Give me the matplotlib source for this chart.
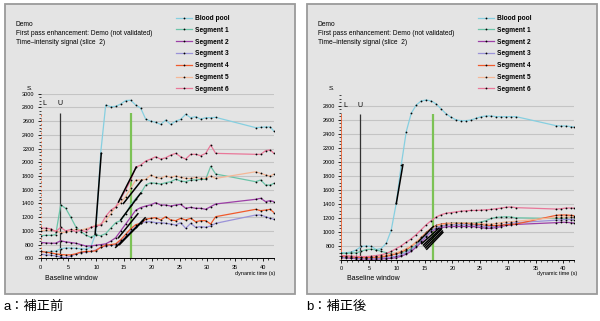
import numpy as np
import matplotlib.pyplot as plt
from matplotlib.patches import Rectangle
from matplotlib.ticker import MultipleLocator

plt.rcParams['font.family'] = ['Liberation Sans', 'Noto Sans CJK JP', 'DejaVu Sans']

W, H = 600, 321

# sample times (s)
times = [0.0, 0.9, 1.8, 2.7, 3.6, 4.5, 5.4, 6.3, 7.2, 8.1, 9.0, 9.9, 10.8, 11.7,
         12.6, 13.5, 14.4, 15.3, 16.2, 17.1, 18.0, 18.9, 19.8, 20.7, 21.6, 22.5,
         23.4, 24.3, 25.2, 26.1, 27.0, 27.9, 28.8, 29.7, 30.6, 31.5,
         38.7, 39.6, 40.5, 41.3, 42.0]

series_names = ['Blood pool', 'Segment 1', 'Segment 2', 'Segment 3',
                'Segment 4', 'Segment 5', 'Segment 6']
series_colors = ['#86cfe0', '#6cc4a8', '#9c3fa6', '#9a92d8',
                 '#f05a2c', '#f5b796', '#e97799']

# --- a: before correction ---
before_blood = [700, 695, 700, 705, 740, 750, 750, 745, 740, 735, 760, 960,
                2135, 2835, 2810, 2815, 2850, 2900, 2905, 2835, 2790, 2630, 2600, 2583,
                2553, 2616, 2553, 2600, 2626, 2700, 2650, 2665, 2630, 2650, 2650, 2655,
                2505, 2510, 2515, 2515, 2455]
before_seg1 = [930, 935, 935, 945, 1378, 1329, 1200, 1062, 989, 940, 906, 940,
               930, 960, 1040, 1120, 1150, 1250, 1380, 1470, 1547, 1668, 1702, 1693,
               1683, 1702, 1717, 1752, 1727, 1717, 1742, 1742, 1752, 1752, 1940, 1829,
               1717, 1742, 1668, 1668, 1693]
before_seg2 = [830, 825, 820, 820, 855, 840, 830, 820, 800, 780, 780, 790,
               800, 810, 850, 900, 1000, 1100, 1200, 1300, 1340, 1362, 1380, 1411,
               1377, 1377, 1362, 1377, 1387, 1329, 1343, 1329, 1329, 1314, 1353, 1392,
               1460, 1475, 1426, 1441, 1426]
before_seg3 = [660, 650, 645, 635, 620, 610, 630, 660, 680, 690, 700, 720,
               760, 780, 790, 800, 850, 920, 1000, 1060, 1110, 1134, 1134, 1120,
               1120, 1110, 1100, 1086, 1120, 1037, 1110, 1052, 1062, 1052, 1071, 1110,
               1231, 1231, 1207, 1183, 1169]
before_seg4 = [700, 690, 680, 665, 655, 650, 650, 665, 690, 700, 700, 710,
               760, 790, 800, 810, 870, 950, 1030, 1090, 1110, 1169, 1183, 1193,
               1159, 1207, 1159, 1149, 1183, 1159, 1183, 1134, 1149, 1149, 1100, 1207,
               1314, 1295, 1304, 1314, 1266]
before_seg5 = [1000, 1010, 1010, 1000, 975, 980, 1000, 1020, 1010, 1030, 1050, 1080,
               1100, 1150, 1250, 1350, 1410, 1500, 1620, 1740, 1741, 1750, 1814, 1780,
               1765, 1800, 1780, 1800, 1780, 1765, 1765, 1780, 1765, 1765, 1800, 1765,
               1862, 1838, 1814, 1800, 1829]
before_seg6 = [1040, 1040, 1030, 990, 1050, 1000, 1020, 990, 1010, 990, 1050, 1070,
               1085, 1210, 1300, 1350, 1470, 1595, 1740, 1927, 1960, 2018, 2047, 2081,
               2047, 2066, 2105, 2130, 2081, 2047, 2116, 2116, 2096, 2130, 2251, 2130,
               2116, 2116, 2170, 2180, 2130]

# --- b: after correction ---
after_blood = [700, 700, 710, 740, 790, 795, 790, 745, 760, 834, 1025, 1407,
               1955, 2432, 2695, 2814, 2872, 2886, 2872, 2829, 2757, 2686, 2638, 2600,
               2590, 2590, 2600, 2624, 2647, 2657, 2657, 2647, 2647, 2647, 2647, 2647,
               2518, 2514, 2514, 2505, 2500]
after_seg1 = [690, 690, 695, 700, 720, 745, 750, 740, 720, 700, 690, 690,
              700, 720, 760, 810, 870, 940, 1010, 1060, 1090, 1110, 1120, 1125,
              1125, 1125, 1125, 1130, 1140, 1160, 1190, 1205, 1210, 1215, 1210, 1200,
              1190, 1195, 1200, 1205, 1205]
after_seg2 = [630, 625, 620, 615, 612, 610, 610, 610, 612, 615, 620, 630,
              650, 680, 720, 780, 850, 930, 1000, 1040, 1060, 1070, 1075, 1075,
              1075, 1075, 1075, 1070, 1060, 1050, 1050, 1060, 1075, 1090, 1100, 1105,
              1130, 1135, 1135, 1130, 1125]
after_seg3 = [640, 635, 630, 625, 620, 620, 620, 622, 625, 630, 640, 650,
              670, 700, 740, 800, 870, 940, 1010, 1060, 1085, 1095, 1100, 1100,
              1100, 1100, 1100, 1095, 1085, 1075, 1070, 1080, 1095, 1110, 1120, 1130,
              1165, 1170, 1175, 1175, 1175]
after_seg4 = [650, 645, 640, 635, 632, 630, 632, 635, 640, 650, 665, 685,
              710, 745, 790, 850, 920, 990, 1050, 1090, 1110, 1120, 1120, 1120,
              1120, 1120, 1115, 1110, 1105, 1095, 1090, 1090, 1095, 1100, 1105, 1110,
              1235, 1240, 1240, 1235, 1230]
after_seg5 = [660, 655, 650, 648, 645, 645, 645, 648, 655, 665, 680, 700,
              725, 760, 800, 855, 920, 985, 1040, 1080, 1100, 1110, 1115, 1120,
              1125, 1125, 1125, 1120, 1115, 1110, 1110, 1120, 1130, 1140, 1145, 1150,
              1205, 1210, 1210, 1210, 1210]
after_seg6 = [660, 655, 650, 645, 645, 645, 650, 660, 670, 690, 720, 760,
              800, 850, 900, 960, 1030, 1100, 1160, 1210, 1245, 1265, 1275, 1285,
              1295, 1300, 1305, 1305, 1310, 1315, 1320, 1330, 1340, 1350, 1355, 1345,
              1325, 1330, 1340, 1340, 1340]

# upslope fit lines: start time, start value, end time, end value
before_fits = [(9.8, 950, 10.9, 2130), (14.0, 1420, 17.2, 1930), (14.9, 1400, 18.2, 1740),
               (14.4, 1160, 18.0, 1550), (14.0, 900, 17.5, 1250), (13.5, 760, 18.5, 1150),
               (14.2, 800, 18.8, 1190)]
after_fits = [(9.9, 1400, 11.1, 1960), (13.9, 860, 16.6, 1075), (14.5, 830, 17.6, 1050),
              (14.8, 810, 17.9, 1040), (15.0, 790, 18.0, 1030), (15.2, 770, 18.2, 1010),
              (15.4, 750, 18.3, 990)]

# baseline markers
before_u, before_green = 3.4, 16.3
after_u, after_green = 3.4, 16.5

fig = plt.figure(figsize=(W / 100, H / 100), dpi=100)


def fx(px):
    return px / W


def fy(py):
    return 1 - py / H


def draw_panel(x_off, ax_rect, ylim, yticks, data, fits, u_t, g_t, vtop, l_dotted, caption):
    # panel box
    fig.patches.append(Rectangle((fx(5 + x_off), fy(294)), fx(290), 290 / H,
                                 transform=fig.transFigure, facecolor='#e4e4e4',
                                 edgecolor='#9a9a9a', lw=1.3, zorder=-10))
    ax = fig.add_axes(ax_rect)
    ax.set_zorder(1)
    ax.set_facecolor('none')
    ax.set_xlim(0, 42)
    ax.set_ylim(*ylim)
    ax.set_yticks(yticks)
    ax.set_xticks(range(0, 41, 5))
    ax.xaxis.set_minor_locator(MultipleLocator(1))
    ax.yaxis.set_minor_locator(MultipleLocator(50))
    ax.tick_params(labelsize=4, length=2, width=0.6, pad=2.5)
    ax.tick_params(which='minor', length=1.2, width=0.5)
    ax.grid(axis='y', color='#c4c4c4', lw=0.8)
    ax.set_axisbelow(True)
    for s in ['top', 'right', 'left']:
        ax.spines[s].set_visible(False)
    ax.spines['bottom'].set_linewidth(0.7)

    handles = []
    for vals, name, col in zip(data, series_names, series_colors):
        ln, = ax.plot(times, vals, color=col, lw=0.9, marker='o', ms=1.3,
                      mfc='black', mec='black', mew=0, label=name, zorder=3)
        handles.append(ln)

    for t0, v0, t1, v1 in fits:
        ax.plot([t0, t1], [v0, v1], color='black', lw=1.1, zorder=4)

    ax.vlines(0, ylim[0], vtop, colors='#f06030', lw=1.2,
              linestyles=':' if l_dotted else '-', zorder=2)
    ax.vlines(u_t, ylim[0], vtop, colors='#333333', lw=0.9, zorder=2)
    ax.vlines(g_t, ylim[0], vtop, colors='#7cc255', lw=1.6, zorder=2)
    ax.text(0.3, vtop + 130, 'L', fontsize=5, va='center')
    ax.text(u_t, vtop + 130, 'U', fontsize=5, ha='center', va='center')

    ax.legend(handles=handles, loc='upper left',
              bbox_to_anchor=(fx(176 + x_off), fy(15)), bbox_transform=fig.transFigure,
              frameon=False, prop={'size': 4.8, 'weight': 'bold'}, handlelength=2.4,
              handletextpad=0.4, labelspacing=0.72, borderpad=0, borderaxespad=0)

    fig.text(fx(16 + x_off), fy(25), 'Demo', fontsize=4.8, va='center')
    fig.text(fx(16 + x_off), fy(33.5), 'First pass enhancement: Demo (not validated)',
             fontsize=4.8, va='center')
    fig.text(fx(16 + x_off), fy(42), 'Time\u2013intensity signal (slice  2)',
             fontsize=4.8, va='center')
    fig.text(fx(27 + x_off), fy(88), 'S.', fontsize=4.5, va='center')
    fig.text(fx(45 + x_off), fy(278), 'Baseline window', fontsize=5, va='center')
    fig.text(fx(275 + x_off), fy(273), 'dynamic time (s)', fontsize=4, va='center', ha='right')
    fig.text(fx(4 + x_off), fy(307), caption, fontsize=9.5, va='center')
    return ax


before = [before_blood, before_seg1, before_seg2, before_seg3, before_seg4, before_seg5, before_seg6]
after = [after_blood, after_seg1, after_seg2, after_seg3, after_seg4, after_seg5, after_seg6]

draw_panel(0, [fx(40.7), fy(258.3), fx(233.3), (258.3 - 93.7) / H],
           (600, 3000), range(600, 3001, 200), before, before_fits,
           before_u, before_green, 2720, True, 'a：補正前')
draw_panel(302, [fx(341.3), fy(259.7), fx(233.1), (259.7 - 92.7) / H],
           (600, 2990), range(800, 2801, 200), after, after_fits,
           after_u, after_green, 2680, False, 'b：補正後')

fig.savefig('out.png', dpi=100)
